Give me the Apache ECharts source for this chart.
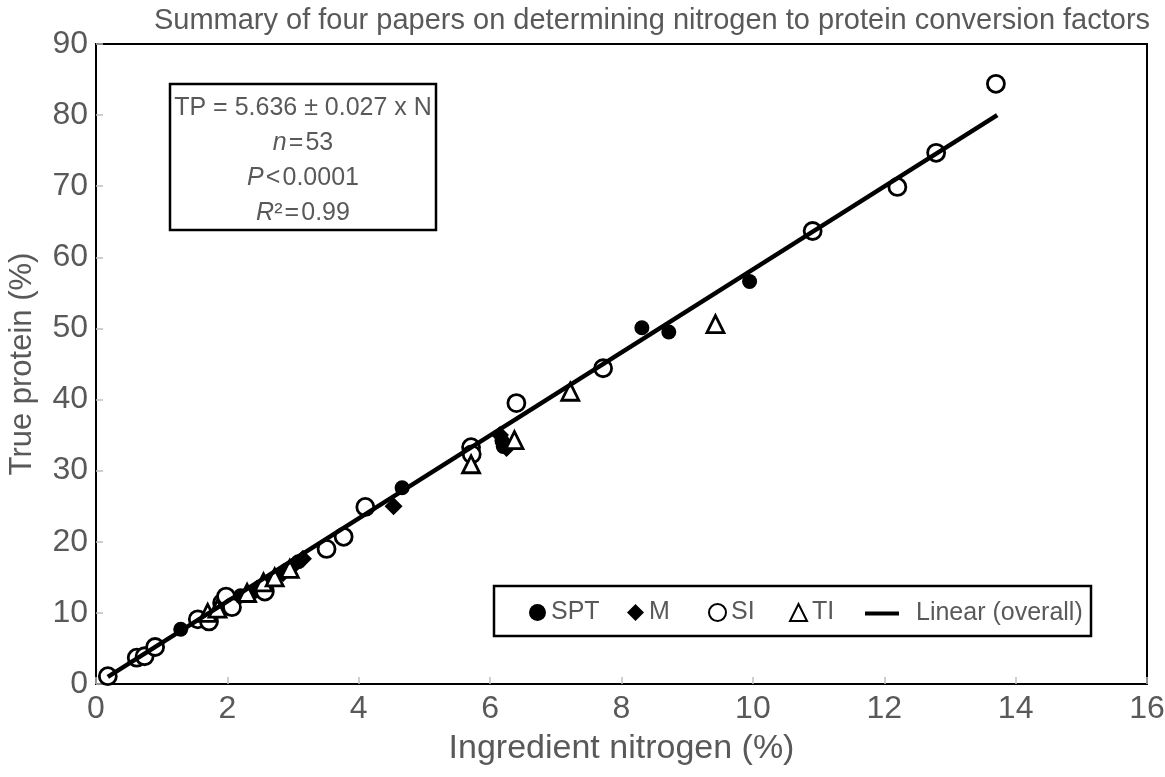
<!DOCTYPE html>
<html>
<head>
<meta charset="utf-8">
<script src="https://cdn.jsdelivr.net/npm/echarts@6/dist/echarts.min.js"></script>
<style>html,body{margin:0;padding:0;background:#fff}#chart{width:1165px;height:777px}</style>
</head>
<body>
<div id="chart"></div>
<script>
// ---- data ----
const sptX = [1.29, 1.90, 2.20, 2.40, 2.62, 2.90, 3.08, 4.66, 6.18, 6.20, 8.31, 8.72, 9.95];
const sptY = [7.7, 11.0, 12.4, 13.0, 14.3, 16.0, 17.2, 27.6, 34.2, 33.4, 50.1, 49.5, 56.6];
const mX = [2.00, 2.15, 2.45, 2.85, 3.00, 3.15, 4.53, 6.15, 6.25];
const mY = [11.6, 12.0, 13.4, 15.6, 16.6, 17.6, 25.0, 35.0, 33.2];
const siX = [0.18, 0.62, 0.74, 0.90, 1.55, 1.72, 1.92, 1.98, 2.07, 2.57, 3.51, 3.77, 4.10, 5.71, 5.72, 6.40, 7.72, 10.91, 12.20, 12.79, 13.70];
const siY = [1.1, 3.7, 3.9, 5.2, 9.1, 8.8, 11.4, 12.3, 10.8, 13.0, 19.0, 20.7, 24.9, 33.3, 32.3, 39.5, 44.4, 63.7, 69.9, 74.7, 84.4];
const tiX = [1.70, 1.85, 2.30, 2.55, 2.72, 2.95, 5.71, 6.37, 7.22, 9.43];
const tiY = [10.0, 10.6, 12.8, 14.3, 15.0, 16.2, 30.9, 34.3, 41.1, 50.6];
const lineX = [0.18, 13.72];
const lineY = [1.0, 80.0];
const xTicks = {min: 0, max: 16, interval: 2};
const yTicks = {min: 0, max: 90, interval: 10};
const seriesNames = ['SPT', 'M', 'SI', 'TI', 'Linear (overall)'];
const boxLines = ['TP = 5.636 ± 0.027 x N', '{i|n}\u200a=\u200a53', '{i|P}\u200a<\u200a0.0001', '{i|R}²\u200a=\u200a0.99'];
const titleText = 'Summary of four papers on determining nitrogen to protein conversion factors';

const zip = (a, b) => a.map((v, i) => [v, b[i]]);
const FONT = 'Liberation Sans, Arial, sans-serif';
const GRAY = '#595959';

const chart = echarts.init(document.getElementById('chart'));

const legendBase = {
  orient: 'horizontal', top: 600, itemHeight: 17, itemWidth: 17,
  textStyle: {fontFamily: FONT, fontSize: 25, color: GRAY}, padding: 0, selectedMode: false, itemGap: 0
};
const legendLefts = [529, 627, 708, 789, 865];
const legends = seriesNames.map((n, i) => {
  const l = Object.assign({}, legendBase, {left: legendLefts[i], data: [n]});
  if (i === 4) {
    l.data = [{name: n, icon: 'rect'}];
    l.itemWidth = 34; l.itemHeight = 4; l.top = 601;
    l.textStyle = Object.assign({}, legendBase.textStyle, {padding: [0, 0, 0, 12]});
  }
  return l;
});

chart.setOption({
  animation: false,
  backgroundColor: '#fff',
  title: {
    text: titleText, left: 647, textAlign: 'center', top: 1,
    textStyle: {fontFamily: FONT, fontSize: 29, fontWeight: 'normal', color: GRAY}
  },
  grid: {left: 96, right: 18, top: 44, bottom: 93, show: true, borderColor: '#000', borderWidth: 2,
    backgroundColor: 'transparent', containLabel: false, outerBoundsMode: 'none'},
  legend: legends,
  xAxis: {
    type: 'value', min: xTicks.min, max: xTicks.max, interval: xTicks.interval,
    name: 'Ingredient nitrogen (%)', nameLocation: 'middle', nameGap: 48,
    nameTextStyle: {fontFamily: FONT, fontSize: 34, color: GRAY},
    axisLine: {show: true, lineStyle: {color: '#000', width: 2}},
    axisTick: {show: true, inside: true, length: 7, lineStyle: {color: '#bfbfbf', width: 1.5}},
    axisLabel: {fontFamily: FONT, fontSize: 32, color: GRAY, margin: 9},
    splitLine: {show: false}
  },
  yAxis: {
    type: 'value', min: yTicks.min, max: yTicks.max, interval: yTicks.interval,
    name: 'True protein (%)', nameLocation: 'middle', nameGap: 58,
    nameTextStyle: {fontFamily: FONT, fontSize: 31, color: GRAY},
    axisLine: {show: true, lineStyle: {color: '#000', width: 2}},
    axisTick: {show: true, inside: true, length: 7, lineStyle: {color: '#bfbfbf', width: 1.5}},
    axisLabel: {fontFamily: FONT, fontSize: 32, color: GRAY, margin: 8},
    splitLine: {show: false}
  },
  series: [
    {name: 'SPT', type: 'scatter', data: zip(sptX, sptY), symbol: 'circle', symbolSize: 15,
     itemStyle: {color: '#000', opacity: 1}, z: 3},
    {name: 'M', type: 'scatter', data: zip(mX, mY), symbol: 'diamond', symbolSize: 18,
     itemStyle: {color: '#000', opacity: 1}, z: 3},
    {name: 'SI', type: 'scatter', data: zip(siX, siY), symbol: 'circle', symbolSize: 17,
     itemStyle: {color: '#fff', borderColor: '#000', borderWidth: 2.8, opacity: 1}, z: 3},
    {name: 'TI', type: 'scatter', data: zip(tiX, tiY), symbol: 'triangle', symbolSize: 17,
     itemStyle: {color: '#fff', borderColor: '#000', borderWidth: 2.8, opacity: 1}, z: 3},
    {name: 'Linear (overall)', type: 'line', data: zip(lineX, lineY), showSymbol: false, symbol: 'none',
     lineStyle: {color: '#000', width: 4.5}, itemStyle: {color: '#000'}, z: 5}
  ],
  graphic: [
    {type: 'rect', shape: {x: 170, y: 84, width: 266, height: 146}, style: {fill: '#fff', stroke: '#000', lineWidth: 2.5}, z: 10},
    ...boxLines.map((t, i) => ({
      type: 'text', x: 303, y: 108 + i * 35, z: 11,
      style: {text: t, align: 'center', verticalAlign: 'middle', fontFamily: FONT, fontSize: 25, fill: GRAY,
        rich: {i: {fontStyle: 'italic', fontFamily: FONT, fontSize: 25, fill: GRAY}}}
    })),
    {type: 'rect', shape: {x: 494, y: 586, width: 597, height: 50}, style: {fill: 'transparent', stroke: '#000', lineWidth: 2.5}, z: 10}
  ]
});
</script>
</body>
</html>
